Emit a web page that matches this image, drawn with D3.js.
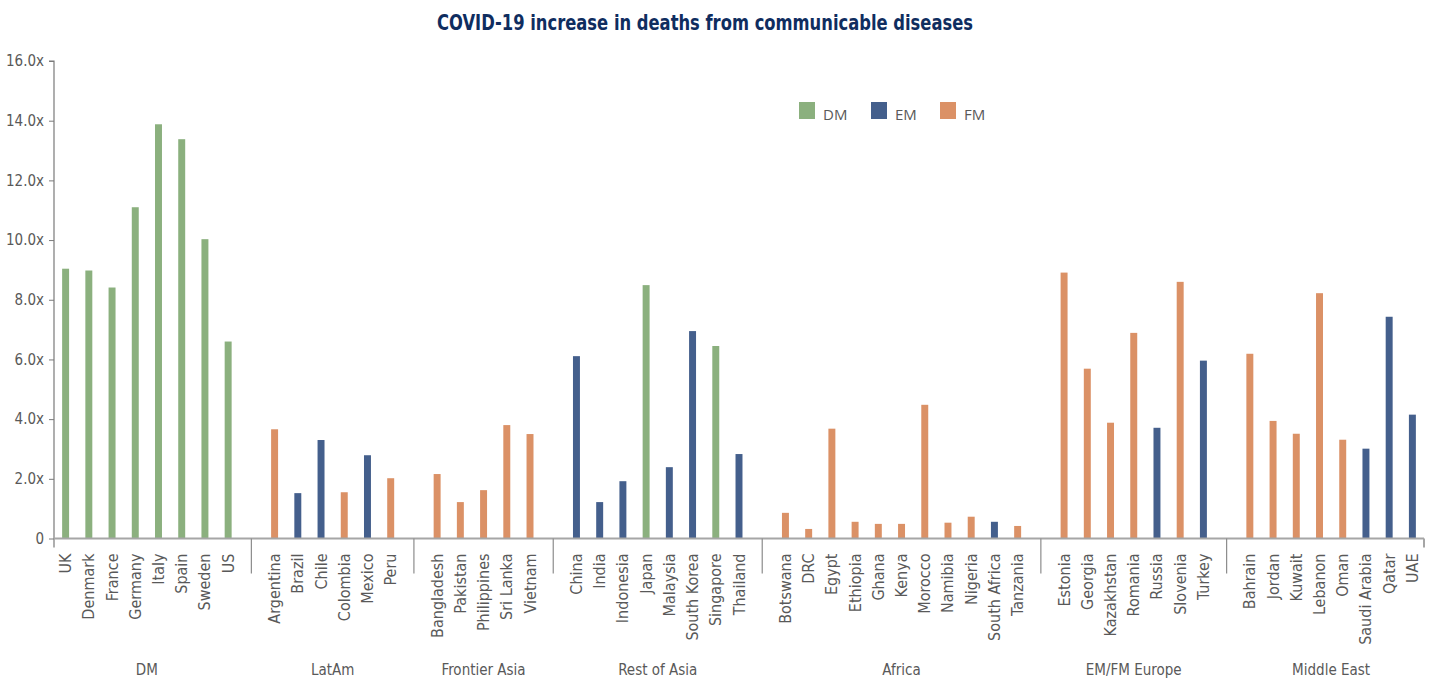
<!DOCTYPE html>
<html>
<head>
<meta charset="utf-8">
<script src="https://cdn.jsdelivr.net/npm/d3@7/dist/d3.min.js"></script>
<style>
  html, body { margin: 0; padding: 0; background: #fff; }
  svg { display: block; }
</style>
</head>
<body>
<svg id="chart" width="1432" height="680"></svg>
<script>
// ---- Data ----
const groupNames = ["DM", "LatAm", "Frontier Asia", "Rest of Asia", "Africa", "EM/FM Europe", "Middle East"];
const countries = [
  "UK","Denmark","France","Germany","Italy","Spain","Sweden","US",
  "Argentina","Brazil","Chile","Colombia","Mexico","Peru",
  "Bangladesh","Pakistan","Philippines","Sri Lanka","Vietnam",
  "China","India","Indonesia","Japan","Malaysia","South Korea","Singapore","Thailand",
  "Botswana","DRC","Egypt","Ethiopia","Ghana","Kenya","Morocco","Namibia","Nigeria","South Africa","Tanzania",
  "Estonia","Georgia","Kazakhstan","Romania","Russia","Slovenia","Turkey",
  "Bahrain","Jordan","Kuwait","Lebanon","Oman","Saudi Arabia","Qatar","UAE"
];
const countryGroup = [
  "DM","DM","DM","DM","DM","DM","DM","DM",
  "LatAm","LatAm","LatAm","LatAm","LatAm","LatAm",
  "Frontier Asia","Frontier Asia","Frontier Asia","Frontier Asia","Frontier Asia",
  "Rest of Asia","Rest of Asia","Rest of Asia","Rest of Asia","Rest of Asia","Rest of Asia","Rest of Asia","Rest of Asia",
  "Africa","Africa","Africa","Africa","Africa","Africa","Africa","Africa","Africa","Africa","Africa",
  "EM/FM Europe","EM/FM Europe","EM/FM Europe","EM/FM Europe","EM/FM Europe","EM/FM Europe","EM/FM Europe",
  "Middle East","Middle East","Middle East","Middle East","Middle East","Middle East","Middle East","Middle East"
];
const marketType = [
  "DM","DM","DM","DM","DM","DM","DM","DM",
  "FM","EM","EM","FM","EM","FM",
  "FM","FM","FM","FM","FM",
  "EM","EM","EM","DM","EM","EM","DM","EM",
  "FM","FM","FM","FM","FM","FM","FM","FM","FM","EM","FM",
  "FM","FM","FM","FM","EM","FM","EM",
  "FM","FM","FM","FM","FM","EM","EM","EM"
];
const values = [
  9.04, 8.98, 8.41, 11.1, 13.88, 13.38, 10.03, 6.6,
  3.66, 1.52, 3.30, 1.55, 2.79, 2.02,
  2.16, 1.22, 1.62, 3.80, 3.50,
  6.11, 1.22, 1.92, 8.49, 2.39, 6.95, 6.45, 2.83,
  0.86, 0.32, 3.68, 0.56, 0.49, 0.49, 4.48, 0.53, 0.73, 0.56, 0.42,
  8.91, 5.69, 3.88, 6.89, 3.71, 8.60, 5.96,
  6.19, 3.94, 3.51, 8.22, 3.31, 3.01, 7.43, 4.15
];
const legendKeys = ["DM", "EM", "FM"];
const legendColors = ["#8BB07E", "#445F8C", "#DB9166"];
const yTicks = [0, 2, 4, 6, 8, 10, 12, 14, 16];
const titleText = "COVID-19 increase in deaths from communicable diseases";

(function () {
  // ---- Layout ----
  const svg = d3.select("#chart");
  const mLeft = 54, mRight = 1424, mTop = 61, mBottom = 538.5;
  const narrow = "'Liberation Sans Narrow', 'DejaVu Sans Condensed', 'Roboto', sans-serif";
  const gray = "#595959";

  // slots: countries with one blank slot between groups
  const slots = [];
  const blankKeys = [];
  groupNames.forEach((g, gi) => {
    if (gi > 0) { const k = "__blank" + gi; slots.push(k); blankKeys.push(k); }
    countries.forEach((c, i) => { if (countryGroup[i] === g) slots.push(c); });
  });

  const x = d3.scaleBand().domain(slots).range([mLeft, mRight]).paddingInner(0.7).paddingOuter(0.35);
  const y = d3.scaleLinear().domain([0, 16]).range([mBottom, mTop]);
  const color = d3.scaleOrdinal().domain(legendKeys).range(legendColors);
  const center = k => x(k) + x.bandwidth() / 2;

  // Title
  svg.append("text")
    .attr("x", 705).attr("y", 30)
    .attr("text-anchor", "middle")
    .attr("textLength", 536)
    .attr("lengthAdjust", "spacingAndGlyphs")
    .style("font-family", narrow)
    .style("font-weight", "bold")
    .style("font-size", "22px")
    .style("fill", "#0F2D5F")
    .text(titleText);

  // Bars
  const rows = countries.map((c, i) => ({ c, v: values[i], m: marketType[i] }));
  svg.append("g").selectAll("rect").data(rows).join("rect")
    .attr("x", d => x(d.c))
    .attr("y", d => y(d.v))
    .attr("width", x.bandwidth())
    .attr("height", d => y(0) - y(d.v))
    .attr("fill", d => color(d.m));

  // Y axis
  const yAxis = d3.axisLeft(y).tickValues(yTicks).tickSize(5).tickPadding(5)
    .tickFormat(d => d === 0 ? "0" : d.toFixed(1) + "x");
  const yg = svg.append("g").attr("transform", `translate(${mLeft},0)`).call(yAxis);
  yg.select(".domain").attr("stroke", "#7a7a7a").attr("stroke-width", 1.2)
    .attr("d", `M-5,${mTop}H0V${mBottom + 9}`);
  yg.selectAll(".tick line").attr("stroke", "#7a7a7a");
  yg.selectAll(".tick text").style("font-family", narrow).style("font-size", "15px").style("fill", gray);

  // X axis line
  svg.append("line")
    .attr("x1", mLeft).attr("x2", mRight).attr("y1", y(0)).attr("y2", y(0))
    .attr("stroke", "#a6a6a6").attr("stroke-width", 2);
  // right end tick
  svg.append("line")
    .attr("x1", mRight).attr("x2", mRight).attr("y1", y(0)).attr("y2", y(0) + 9)
    .attr("stroke", "#a6a6a6").attr("stroke-width", 2);
  // group separators
  svg.append("g").selectAll("line").data(blankKeys).join("line")
    .attr("x1", d => center(d)).attr("x2", d => center(d))
    .attr("y1", y(0)).attr("y2", y(0) + 35)
    .attr("stroke", "#8c8c8c").attr("stroke-width", 1.2);

  // Country labels (rotated)
  svg.append("g").selectAll("text").data(countries).join("text")
    .attr("transform", d => `translate(${center(d) + 5.5},${y(0) + 15}) rotate(-90)`)
    .attr("text-anchor", "end")
    .style("font-family", narrow)
    .style("font-size", "16px")
    .style("fill", gray)
    .text(d => d);

  // Group labels
  svg.append("g").selectAll("text").data(groupNames).join("text")
    .attr("x", g => {
      const cs = countries.filter((c, i) => countryGroup[i] === g);
      return (center(cs[0]) + center(cs[cs.length - 1])) / 2;
    })
    .attr("y", 675)
    .attr("text-anchor", "middle")
    .style("font-family", narrow)
    .style("font-size", "15px")
    .style("fill", gray)
    .text(g => g);

  // Legend
  const lg = svg.append("g");
  const legendX = [799, 871, 940];
  legendKeys.forEach((k, i) => {
    lg.append("rect").attr("x", legendX[i]).attr("y", 102).attr("width", 16).attr("height", 17)
      .attr("fill", legendColors[i]);
    lg.append("text").attr("x", legendX[i] + 24).attr("y", 120)
      .style("font-family", "'Open Sans', 'Liberation Sans', sans-serif")
      .style("font-size", "15px")
      .style("fill", gray)
      .text(k);
  });
})();
</script>
</body>
</html>
